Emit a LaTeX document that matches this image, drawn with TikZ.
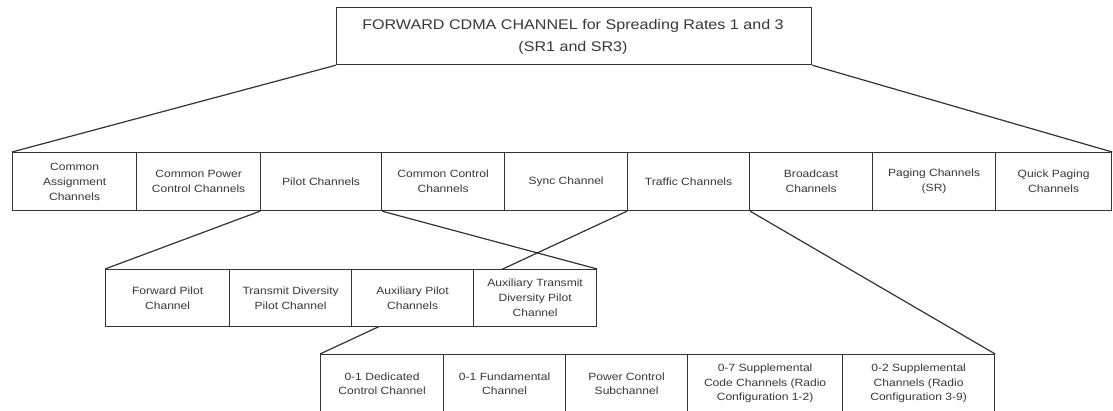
\documentclass[tikz,border=0pt]{standalone}
\usepackage{fontspec}
\setmainfont{Liberation Sans}[FakeStretch=1.15]
\usetikzlibrary{backgrounds}
\definecolor{linec}{gray}{0.2}
\definecolor{textc}{gray}{0.22}
\tikzset{
  every picture/.style={x=1pt,y=-1pt},
  boxbase/.style={draw=linec, line width=1.2pt, fill=white, inner sep=1pt, align=center, text=textc, anchor=north west},
  cell/.style={boxbase, minimum height=58pt, font=\fontsize{10.5}{15}\selectfont},
  subcell/.style={boxbase, minimum height=57pt, font=\fontsize{10.5}{15}\selectfont},
  tcell/.style={boxbase, minimum height=58pt, font=\fontsize{10.5}{14.5}\selectfont},
  topbox/.style={boxbase, anchor=north west, minimum width=475pt, minimum height=57pt, font=\fontsize{14}{21.5}\selectfont},
  conn/.style={draw=linec, line width=1.2pt}
}
\begin{document}
\begin{tikzpicture}
\useasboundingbox (0,0) rectangle (1113,410);
\clip (0,0) rectangle (1113,410);
\node[topbox] (top) at (336,7) {};
\node[text=textc, font=\fontsize{14}{21.5}\selectfont, align=center, inner sep=0pt] (toptext) at (573,37) {FORWARD CDMA CHANNEL for Spreading Rates 1 and 3\\(SR1 and SR3)};
% row 1
\node[cell, minimum width=124pt] (c1) at (12,152) {Common\\Assignment\\Channels};
\node[cell, minimum width=124pt] (c2) at (136,152) {Common Power\\Control Channels};
\node[cell, minimum width=121pt] (c3) at (260,152) {Pilot Channels};
\node[cell, minimum width=123pt] (c4) at (381,152) {Common Control\\Channels};
\node[cell, minimum width=123pt] (c5) at (504,152) {Sync Channel};
\node[cell, minimum width=122pt] (c6) at (627,152) {Traffic Channels};
\node[cell, minimum width=123pt] (c7) at (749,152) {Broadcast\\Channels};
\node[cell, minimum width=123pt] (c8) at (872,152) {Paging Channels\\(SR)};
\node[cell, minimum width=116pt] (c9) at (995,152) {Quick Paging\\Channels};
% row 2
\node[subcell, minimum width=124pt] (p1) at (105,269) {Forward Pilot\\Channel};
\node[subcell, minimum width=122pt] (p2) at (229,269) {Transmit Diversity\\Pilot Channel};
\node[subcell, minimum width=122pt] (p3) at (351,269) {Auxiliary Pilot\\Channels};
\node[subcell, minimum width=123pt] (p4) at (473,269) {Auxiliary Transmit\\Diversity Pilot\\Channel};
% row 3
\node[tcell, minimum width=123pt] (t1) at (320,354) {0-1 Dedicated\\Control Channel};
\node[tcell, minimum width=122pt] (t2) at (443,354) {0-1 Fundamental\\Channel};
\node[tcell, minimum width=122pt] (t3) at (565,354) {Power Control\\Subchannel};
\node[tcell, minimum width=155pt] (t4) at (687,354) {0-7 Supplemental\\Code Channels (Radio\\Configuration 1-2)};
\node[tcell, minimum width=152pt] (t5) at (842,354) {0-2 Supplemental\\Channels (Radio\\Configuration 3-9)};
% connectors
\begin{scope}[on background layer]
\draw[conn] (top.south west) -- (c1.north west);
\draw[conn] (top.south east) -- (c9.north east);
\draw[conn] (c3.south west) -- (p1.north west);
\draw[conn] (c3.south east) -- (p4.north east);
\draw[conn] (c6.south west) -- (t1.north west);
\draw[conn] (c6.south east) -- (t5.north east);
\end{scope}
\end{tikzpicture}
\end{document}
